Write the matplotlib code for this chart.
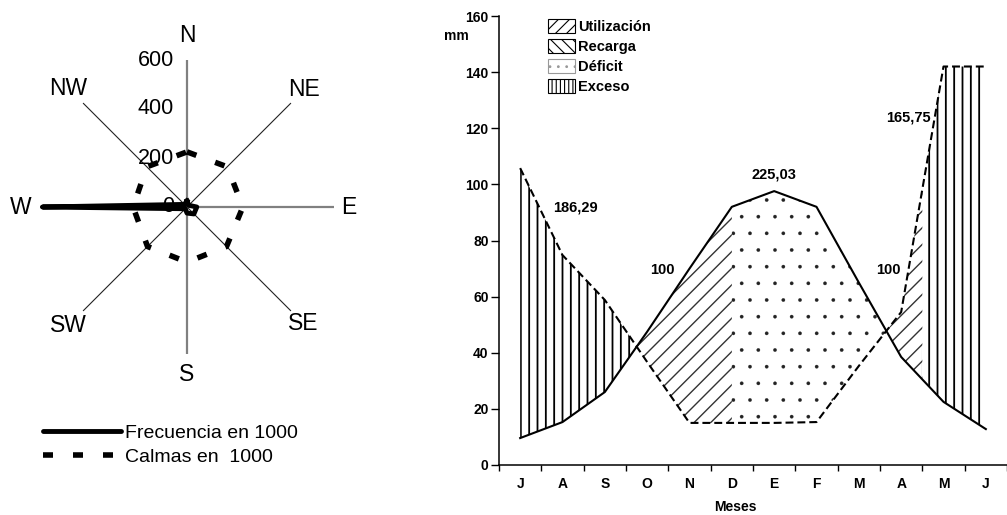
import numpy as np
import matplotlib
matplotlib.use('Agg')
import matplotlib.pyplot as plt
from matplotlib.lines import Line2D
from matplotlib.patches import Patch
from matplotlib.transforms import offset_copy

plt.rcParams['font.family'] = ['Liberation Sans', 'DejaVu Sans']
plt.rcParams['hatch.linewidth'] = 1.3

# wind rose data
directions = ['N', 'NE', 'E', 'SE', 'S', 'SW', 'W', 'NW']
frecuencia = [25, 10, 40, 40, 25, 10, 590, 15]
calmas = [225, 232, 228, 228, 225, 228, 220, 232]
rose_ticks = [0, 200, 400, 600]

# water balance data
meses = ['J', 'A', 'S', 'O', 'N', 'D', 'E', 'F', 'M', 'A', 'M', 'J']
precipitacion = [105.8, 74.8, 58.8, 36.7, 15.0, 15.0, 15.0, 15.3, 35.3, 54.5, 142.0, 142.0]
etp = [9.6, 15.3, 26.0, 47.5, 70.0, 92.0, 97.6, 92.0, 65.0, 38.5, 22.5, 12.8]
notas = ['186,29', '100', '225,03', '165,75', '100']
notas_x = [1.3, 3.35, 6.0, 9.17, 8.7]
notas_y = [91.6, 69.5, 103.4, 124.0, 69.5]
inicio_deficit = 5       # D
fin_recarga = 9.5        # between A and M

fig = plt.figure(figsize=(10.07, 5.15), dpi=100)

# ---------------- wind rose ----------------
ax1 = fig.add_axes([40 / 1007, 161 / 515, 294 / 1007, 294 / 515], projection='polar')
ax1.set_theta_zero_location('N')
ax1.set_theta_direction(-1)
ax1.set_ylim(0, 600)
theta = np.deg2rad(np.arange(0, 360, 45))
ax1.set_xticks(theta)
ax1.set_xticklabels([])
ax1.set_yticks([])
ax1.spines['polar'].set_visible(False)
ax1.xaxis.grid(True)
for i, gl in enumerate(ax1.xaxis.get_gridlines()):
    if i % 2 == 0:
        gl.set_color('#808080')
        gl.set_linewidth(1.6)
    else:
        gl.set_color('#222222')
        gl.set_linewidth(0.8)
    gl.set_linestyle('-')

label_r = [1.17, 1.13, 1.10, 1.12, 1.14, 1.14, 1.13, 1.14]
for t, d, r in zip(theta, directions, label_r):
    ax1.text(t, r * 600, d, ha='center', va='center', fontsize=16.5)

shift = offset_copy(ax1.transData, fig=fig, x=-9.5, y=0, units='points')
for r in rose_ticks:
    ax1.text(0, r, str(r), transform=shift, ha='right', va='center', fontsize=15.5)

tt = np.append(theta, theta[0])
ax1.plot(tt, calmas + calmas[:1], color='k', lw=4, ls=(0, (1.8, 3.6)),
         dash_capstyle='butt', clip_on=False)
ax1.plot(tt, frecuencia + frecuencia[:1], color='k', lw=3.5,
         solid_joinstyle='round', clip_on=False)

h1 = [Line2D([], [], color='k', lw=3.5, solid_capstyle='round'),
      Line2D([], [], color='k', lw=4, ls=(0, (1.8, 3.6)), dash_capstyle='butt')]
fig.legend(h1, ['Frecuencia en 1000', 'Calmas en  1000'], loc='upper left',
           bbox_to_anchor=(43 / 1007, 1 - 424 / 515), frameon=False, fontsize=14,
           handlelength=4.0, handletextpad=0.2, labelspacing=0.35,
           borderpad=0, borderaxespad=0)

# ---------------- water balance ----------------
ax2 = fig.add_axes([499 / 1007, 50 / 515, 508 / 1007, 449 / 515])
idx = np.arange(len(meses))
xs = np.linspace(0, 11, 1101)
p_i = np.interp(xs, idx, precipitacion)
e_i = np.interp(xs, idx, etp)

style = dict(facecolor='none', linewidth=0, interpolate=True)
ax2.fill_between(xs, e_i, p_i, where=(p_i >= e_i) & ((xs <= 4) | (xs >= fin_recarga)),
                 hatch='||', edgecolor='black', **style)
with plt.rc_context({'hatch.linewidth': 1.0}):
    ax2.fill_between(xs, p_i, e_i, where=(e_i >= p_i) & (xs <= inicio_deficit),
                     hatch='//', edgecolor='#333333', **style)
    ax2.fill_between(xs, e_i, p_i, where=(p_i >= e_i) & (xs >= 7) & (xs <= fin_recarga),
                     hatch='//', edgecolor='#333333', **style)
with plt.rc_context({'hatch.linewidth': 0.2}):
    ax2.fill_between(xs, p_i, e_i, where=(e_i >= p_i) & (xs >= inicio_deficit),
                     hatch='.', edgecolor='#222222', **style)

ax2.plot(idx, etp, color='k', lw=1.5)
ax2.plot(idx, precipitacion, color='k', lw=1.5, ls=(0, (3.8, 1.9)))

for s, x, y in zip(notas, notas_x, notas_y):
    ax2.text(x, y, s, ha='center', va='center', fontsize=10.5, fontweight='bold')

ax2.set_xlim(-0.5, 11.5)
ax2.set_ylim(0, 160)
ax2.spines['top'].set_visible(False)
ax2.spines['right'].set_visible(False)
ax2.spines['left'].set_linewidth(1.1)
ax2.spines['bottom'].set_linewidth(1.1)
ax2.set_xticks(np.arange(-0.5, 12, 1))
ax2.set_xticklabels([])
ax2.set_xticks(idx, minor=True)
ax2.set_xticklabels(meses, minor=True, fontsize=10, fontweight='bold')
ax2.tick_params(axis='x', which='major', direction='out', length=4, width=1)
ax2.tick_params(axis='x', which='minor', length=0, pad=9)
ax2.set_yticks(np.arange(0, 161, 20))
ax2.set_yticklabels([str(v) for v in range(0, 161, 20)], fontsize=10, fontweight='bold')
ax2.tick_params(axis='y', direction='out', length=6, width=1, pad=1.5)
ax2.set_xlabel('Meses', fontsize=10, fontweight='bold')
ax2.xaxis.set_label_coords(0.465, -0.078)
ax2.text(-0.083, 0.955, 'mm', transform=ax2.transAxes, ha='center', va='center',
         fontsize=10, fontweight='bold')

with plt.rc_context({'hatch.linewidth': 0.8}):
    h2 = [Patch(facecolor='white', edgecolor='black', hatch='///', lw=0.8),
          Patch(facecolor='white', edgecolor='black', hatch='\\\\\\', lw=0.8),
          Patch(facecolor='white', edgecolor='#999999', hatch='..', lw=0.8),
          Patch(facecolor='white', edgecolor='black', hatch='||||', lw=0.8)]
    ax2.legend(h2, ['Utilización', 'Recarga', 'Déficit', 'Exceso'], loc='upper left',
               bbox_to_anchor=(0.096, 0.993), frameon=False,
               prop={'size': 10.5, 'weight': 'bold'}, handlelength=1.85, handleheight=1.07,
               handletextpad=0.2, labelspacing=0.36, borderpad=0, borderaxespad=0)

plt.savefig('out.png', dpi=100)
